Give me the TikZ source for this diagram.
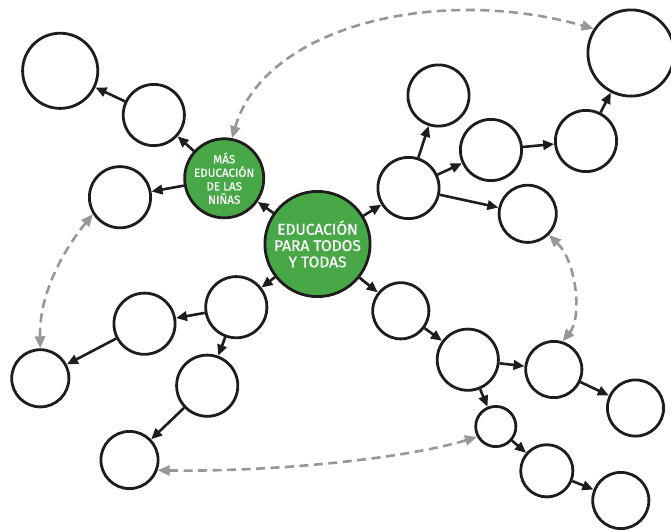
\documentclass[tikz,border=0pt]{standalone}
\usepackage{fontspec}
\setmainfont{Fira Sans}
\newfontfamily\hubfont{Fira Sans}[FakeBold=0.6]
\usetikzlibrary{arrows.meta}
\definecolor{nodegreen}{RGB}{72,168,72}
\definecolor{dashgray}{RGB}{150,151,155}
\definecolor{inkblack}{RGB}{30,28,28}
\begin{document}
\begin{tikzpicture}[x=1pt,y=-1pt,
  bub/.style={circle,draw=inkblack,line width=2.8pt,fill=white,inner sep=0pt,minimum size=#1},
  hub/.style={circle,draw=inkblack,line width=2.8pt,fill=nodegreen,inner sep=0pt,minimum size=#1,text=white,align=center},
  bigtext/.style={font=\hubfont\fontsize{15.5}{16.3}\selectfont},
  smalltext/.style={font=\hubfont\fontsize{11.6}{13.5}\selectfont},
  link/.style={line width=2.6pt,draw=inkblack,-{Triangle[length=11pt,width=9.5pt]}},
  dlink/.style={line width=2.6pt,draw=dashgray,dash pattern=on 9pt off 5.5pt,
     {Triangle[length=12pt,width=10pt]}-{Triangle[length=12pt,width=10pt]}}
]
\useasboundingbox (0,0) rectangle (671,531);

% green hubs
\node[hub=105.2pt,bigtext] (G1) at (317.5,244) {EDUCACIÓN\\PARA TODOS\\Y TODAS};
\node[hub=74.8pt,smalltext] (G2) at (224.2,178.3) {MÁS\\EDUCACIÓN\\DE LAS\\NIÑAS};

% upper-left branch
\node[bub=75.2pt] (A1) at (60.2,70.8) {};
\node[bub=61.2pt] (A2) at (153.8,115) {};
\node[bub=61.2pt] (A3) at (120,197.2) {};

% upper-right branch
\node[bub=86.2pt] (B1) at (631,53) {};
\node[bub=61.2pt] (B2) at (438.5,95.5) {};
\node[bub=61.2pt] (B3) at (491,150) {};
\node[bub=61.2pt] (B4) at (586,141) {};
\node[bub=61.2pt] (B5) at (408.5,188) {};
\node[bub=57.2pt] (B6) at (527.7,213.8) {};

% lower-left branch
\node[bub=61.2pt] (C1) at (236.3,307.2) {};
\node[bub=61.2pt] (C2) at (144.5,323.7) {};
\node[bub=57.2pt] (C3) at (40.3,378.3) {};
\node[bub=61.2pt] (C4) at (207.2,385.7) {};
\node[bub=57.2pt] (C5) at (129.5,460) {};

% lower-right branch
\node[bub=56.2pt] (D1) at (400.8,310.8) {};
\node[bub=61.2pt] (D2) at (467.8,359.7) {};
\node[bub=56.2pt] (D3) at (553.8,369.5) {};
\node[bub=56.2pt] (D4) at (635.5,408) {};
\node[bub=40.2pt] (D5) at (495.8,426.5) {};
\node[bub=52.2pt] (D6) at (546.8,470.8) {};
\node[bub=56.2pt] (D7) at (620.8,500.5) {};

% black connectors
\draw[link] (G1) -- (G2);
\draw[link] (G1) -- (B5);
\draw[link] (G1) -- (C1);
\draw[link] (G1) -- (D1);
\draw[link] (G2) -- (A2);
\draw[link] (G2) -- (A3);
\draw[link] (A2) -- (A1);
\draw[link] (B5) -- (B2);
\draw[link] (B5) -- (B3);
\draw[link] (B5) -- (B6);
\draw[link] (B3) -- (B4);
\draw[link] (B4) -- (B1);
\draw[link] (C1) -- (C2);
\draw[link] (C1) -- (C4);
\draw[link] (C2) -- (C3);
\draw[link] (C4) -- (C5);
\draw[link] (D1) -- (D2);
\draw[link] (D2) -- (D3);
\draw[link] (D2) -- (D5);
\draw[link] (D3) -- (D4);
\draw[link] (D5) -- (D6);
\draw[link] (D6) -- (D7);

% grey dashed two-way connectors
\draw[dlink] (G2.79) .. controls (265,25) and (440,-15) .. (B1.147);
\draw[dlink] (A3.212) .. controls (62,252) and (39,295) .. (C3.90);
\draw[dlink] (B6.-45) .. controls (577,262) and (582,318) .. (D3.73);
\draw[dlink] (C5.-20) .. controls (265,472) and (400,460) .. (D5.209);
\end{tikzpicture}
\end{document}
